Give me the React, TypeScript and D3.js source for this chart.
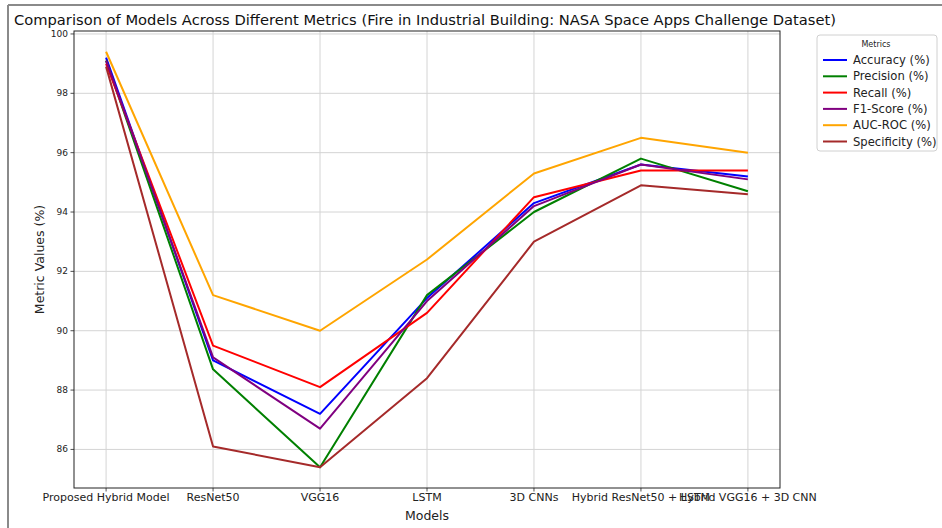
import React from 'react';
import * as d3 from 'd3';

const models = [
  'Proposed Hybrid Model',
  'ResNet50',
  'VGG16',
  'LSTM',
  '3D CNNs',
  'Hybrid ResNet50 + LSTM',
  'Hybrid VGG16 + 3D CNN',
];

const accuracy = [99.2, 89.0, 87.2, 91.1, 94.3, 95.6, 95.2];
const precision = [99.1, 88.7, 85.4, 91.2, 94.0, 95.8, 94.7];
const recall = [99.0, 89.5, 88.1, 90.6, 94.5, 95.4, 95.4];
const f1Score = [99.1, 89.1, 86.7, 91.0, 94.2, 95.6, 95.1];
const aucRoc = [99.4, 91.2, 90.0, 92.4, 95.3, 96.5, 96.0];
const specificity = [98.9, 86.1, 85.4, 88.4, 93.0, 94.9, 94.6];

const yTicks = [86, 88, 90, 92, 94, 96, 98, 100];

const series = [
  { name: 'Accuracy (%)', values: accuracy, color: 'blue' },
  { name: 'Precision (%)', values: precision, color: 'green' },
  { name: 'Recall (%)', values: recall, color: 'red' },
  { name: 'F1-Score (%)', values: f1Score, color: 'purple' },
  { name: 'AUC-ROC (%)', values: aucRoc, color: 'orange' },
  { name: 'Specificity (%)', values: specificity, color: 'brown' },
];

const W = 942;
const H = 528;
const margin = { top: 31, right: 162, bottom: 40, left: 74 };
const font = 'DejaVu Sans, sans-serif';

export default function App() {
  const innerLeft = margin.left;
  const innerRight = W - margin.right;
  const innerTop = margin.top;
  const innerBottom = H - margin.bottom;

  // same 5% padding matplotlib uses
  const n = models.length;
  const xPad = (n - 1) * 0.05;
  const x = d3.scaleLinear().domain([-xPad, n - 1 + xPad]).range([innerLeft, innerRight]);

  const all = series.flatMap(s => s.values);
  const yMin = d3.min(all) as number;
  const yMax = d3.max(all) as number;
  const yPad = (yMax - yMin) * 0.05;
  const y = d3.scaleLinear().domain([yMin - yPad, yMax + yPad]).range([innerBottom, innerTop]);

  const line = d3.line<number>()
    .x((_, i) => x(i))
    .y(d => y(d));

  const legendX = 817;
  const legendY = 35;

  return (
    <svg width={W} height={H} style={{ position: 'absolute', left: 0, top: 0, background: '#fff' }}>
      <rect x={0} y={0} width={W} height={H} fill="#fff" />
      {/* screenshot frame */}
      <line x1={8} y1={5} x2={W} y2={5} stroke="#8a8a8a" strokeWidth={2} />
      <line x1={8} y1={5} x2={8} y2={H} stroke="#8a8a8a" strokeWidth={2} />

      <text x={14} y={25} fontFamily={font} fontSize={14.7} fill="#111">
        Comparison of Models Across Different Metrics (Fire in Industrial Building: NASA Space Apps Challenge Dataset)
      </text>

      {/* grid */}
      <g stroke="#d4d4d4" strokeWidth={1}>
        {models.map((_, i) => (
          <line key={'gx' + i} x1={x(i)} x2={x(i)} y1={innerTop} y2={innerBottom} />
        ))}
        {yTicks.map(t => (
          <line key={'gy' + t} x1={innerLeft} x2={innerRight} y1={y(t)} y2={y(t)} />
        ))}
      </g>

      {/* series */}
      {series.map(s => (
        <path key={s.name} d={line(s.values) || ''} fill="none" stroke={s.color} strokeWidth={2} strokeLinejoin="round" />
      ))}

      {/* axes frame */}
      <rect x={innerLeft} y={innerTop} width={innerRight - innerLeft} height={innerBottom - innerTop}
        fill="none" stroke="#222" strokeWidth={1} />

      {/* y ticks */}
      {yTicks.map(t => (
        <g key={'yt' + t}>
          <line x1={innerLeft - 3.5} x2={innerLeft} y1={y(t)} y2={y(t)} stroke="#222" strokeWidth={0.8} />
          <text x={innerLeft - 6} y={y(t) + 3} textAnchor="end" fontFamily={font} fontSize={9} fill="#222">{t}</text>
        </g>
      ))}

      {/* x ticks */}
      {models.map((m, i) => (
        <g key={'xt' + i}>
          <line x1={x(i)} x2={x(i)} y1={innerBottom} y2={innerBottom + 3.5} stroke="#222" strokeWidth={0.8} />
          <text x={x(i)} y={innerBottom + 13} textAnchor="middle" fontFamily={font} fontSize={11} fill="#222">{m}</text>
        </g>
      ))}

      <text x={(innerLeft + innerRight) / 2} y={520} textAnchor="middle" fontFamily={font} fontSize={12.5} fill="#222">Models</text>
      <text transform={`translate(44,${(innerTop + innerBottom) / 2}) rotate(-90)`} textAnchor="middle"
        fontFamily={font} fontSize={12.5} fill="#222">Metric Values (%)</text>

      {/* legend */}
      <g>
        <rect x={legendX} y={legendY} width={120} height={116} rx={3} fill="#fff" stroke="#d0d0d0" strokeWidth={1} />
        <text x={legendX + 59} y={legendY + 12} textAnchor="middle" fontFamily={font} fontSize={8} fill="#222">Metrics</text>
        {series.map((s, i) => {
          const cy = legendY + 25 + i * 16.3;
          return (
            <g key={'lg' + s.name}>
              <line x1={legendX + 6} x2={legendX + 30} y1={cy} y2={cy} stroke={s.color} strokeWidth={2} />
              <text x={legendX + 36} y={cy + 4} fontFamily={font} fontSize={11.6} fill="#222">{s.name}</text>
            </g>
          );
        })}
      </g>
    </svg>
  );
}
